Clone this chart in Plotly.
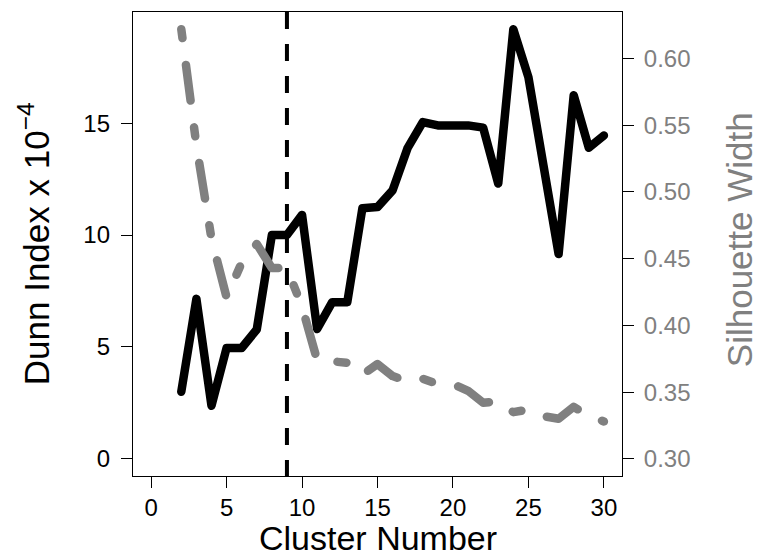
import plotly.graph_objects as go

# ---- data ----
clusters = list(range(2, 31))
dunn = [3.0, 7.15, 2.37, 4.95, 4.95, 5.78, 10.0, 10.0, 10.9, 5.8, 7.0, 7.0,
        11.2, 11.25, 12.0, 13.9, 15.05, 14.9, 14.9, 14.9, 14.8, 12.3, 19.2,
        17.05, 13.1, 9.15, 16.25, 13.9, 14.45]
silhouette = [0.622, 0.535, 0.465, 0.421, 0.447, 0.461, 0.443, 0.443, 0.414,
              0.374, 0.373, 0.372, 0.363, 0.371, 0.362, 0.358, 0.360, 0.356,
              0.356, 0.351, 0.342, 0.343, 0.335, 0.337, 0.332, 0.330, 0.339,
              0.332, 0.328]
chosen_k = 9
x_ticks = [0, 5, 10, 15, 20, 25, 30]
y_ticks = [0, 5, 10, 15]
y2_ticks = [0.30, 0.35, 0.40, 0.45, 0.50, 0.55, 0.60]

FONT = "Liberation Sans, Arial, Helvetica, sans-serif"
GRAY = "#808080"

fig = go.Figure()
fig.add_trace(go.Scatter(x=clusters, y=dunn, mode="lines",
                         line=dict(color="black", width=8.5), yaxis="y",
                         showlegend=False))
fig.add_trace(go.Scatter(x=clusters, y=silhouette, mode="lines",
                         line=dict(color=GRAY, width=8.5, dash="9px,27px,36px,27px"),
                         yaxis="y2", showlegend=False))

fig.add_shape(type="line", xref="x", yref="paper", x0=chosen_k, x1=chosen_k,
              y0=1, y1=0, line=dict(color="black", width=4, dash="17px,15px"),
              layer="above")

axis_common = dict(showgrid=False, zeroline=False, ticks="outside", ticklen=11,
                   tickwidth=1.3, tickcolor="black", linecolor="black", linewidth=1.3)

fig.update_layout(
    width=760, height=559,
    margin=dict(l=133, r=138, t=12, b=83),
    paper_bgcolor="white", plot_bgcolor="white",
    font=dict(family=FONT, color="black"),
    xaxis=dict(range=[-1.2, 31.2], tickvals=x_ticks, showline=True, mirror=True,
               tickfont=dict(size=24, color="black"), ticklabelstandoff=-1,
               **axis_common),
    yaxis=dict(range=[-0.768, 19.968], tickvals=y_ticks, showline=True, mirror=True,
               tickfont=dict(size=24, color="black"), ticklabelstandoff=6,
               **axis_common),
    yaxis2=dict(range=[0.28712, 0.63488], tickvals=y2_ticks, overlaying="y",
                side="right", showline=False, tickformat=".2f",
                tickfont=dict(size=24, color=GRAY), ticklabelstandoff=5,
                showgrid=False, zeroline=False, ticks="outside", ticklen=11,
                tickwidth=1.3, tickcolor="black"),
    annotations=[
        dict(text="Cluster Number", xref="paper", yref="paper", x=0.5, y=-0.1795,
             xanchor="center", yanchor="bottom", showarrow=False,
             font=dict(size=34, color="black", family=FONT)),
        dict(text="Dunn Index x 10<sup>\u22124</sup>", xref="paper", yref="paper",
             x=-0.202, y=0.5, xanchor="center", yanchor="middle", textangle=-90,
             showarrow=False, font=dict(size=35, color="black", family=FONT)),
        dict(text="Silhouette Width", xref="paper", yref="paper",
             x=1.24, y=0.509, xanchor="center", yanchor="middle", textangle=-90,
             showarrow=False, font=dict(size=35, color=GRAY, family=FONT)),
    ],
)

post = ("var s=document.createElement('style');"
        "s.textContent='.js-line{stroke-linejoin:round!important;stroke-linecap:round!important}';"
        "document.head.appendChild(s);")
fig.write_html("out.html", post_script=post)
